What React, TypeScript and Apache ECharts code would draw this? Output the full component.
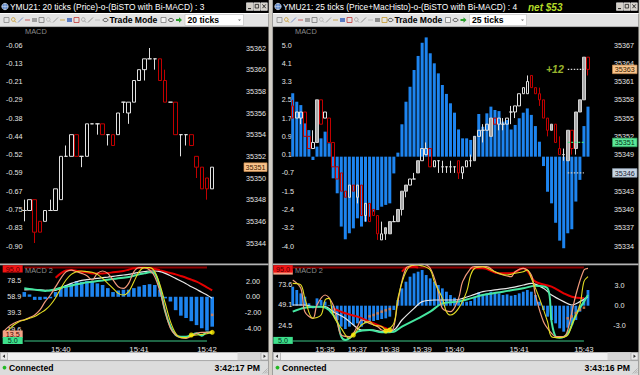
import React, { useEffect, useRef } from 'react';
import * as echarts from 'echarts';

const FONT = '"Liberation Sans", Arial, sans-serif';
const BLUE = '#1d84ef';
const AXC = '#e6e6e6';

// ================= Left window (20 ticks) =================
const L_TITLE = 'YMU21: 20 ticks (Price)-o-(BiSTO with Bi-MACD) : 3';
const L_PERIOD = '20 ticks';
const L_CLOCK = '3:42:17 PM';
const L_SLOTS = 41;
const L_FIRST = 4; // first slot holding a candle / histogram bar
// [open, close, low, high]
const L_OHLC = [
  [35347, 35347, 35346, 35348], [35347, 35348, 35347, 35348], [35348, 35345, 35344, 35348],
  [35346, 35345, 35345, 35346], [35346, 35347, 35346, 35347], [35347, 35347, 35347, 35348],
  [35347, 35349, 35347, 35349], [35348, 35352, 35348, 35352], [35352, 35352, 35352, 35353],
  [35352, 35354, 35352, 35354], [35354, 35352, 35352, 35354], [35352, 35352, 35351, 35352],
  [35352, 35355, 35352, 35355], [35355, 35355, 35355, 35355], [35355, 35355, 35354, 35355],
  [35355, 35354, 35354, 35355], [35354, 35354, 35353, 35354], [35354, 35353, 35353, 35354],
  [35354, 35356, 35354, 35356], [35357, 35357, 35356, 35357], [35356, 35357, 35355, 35357],
  [35357, 35359, 35357, 35359], [35359, 35360, 35359, 35360], [35360, 35361, 35359, 35361],
  [35361, 35361, 35361, 35362], [35361, 35361, 35360, 35361], [35361, 35359, 35359, 35361],
  [35359, 35357, 35357, 35360], [35357, 35357, 35357, 35357], [35357, 35354, 35354, 35357],
  [35354, 35354, 35352, 35354], [35354, 35354, 35353, 35354], [35354, 35353, 35353, 35354],
  [35352, 35351, 35350, 35352], [35351, 35349, 35349, 35351], [35350, 35349, 35348, 35350],
  [35349, 35351, 35349, 35351],
];
const L_PRICE_MIN = 35344;
const L_PRICE_MAX = 35362;
const L_PRICE_STEP = 2;
const L_LAST = 35351;
const L_MACD_LABELS = ['-0.90', '-0.83', '-0.75', '-0.67', '-0.59', '-0.52', '-0.44', '-0.38', '-0.29', '-0.21', '-0.13', '-0.06'];
const L_MACD2 = [
  0.6, 0.3, -0.4, -0.4, -0.3, -0.2, 0.6, 1.1, 1.5, 1.7, 2.0, 1.9, 2.0, 1.9, 1.7, 1.5, 1.1,
  0.6, 0.8, 0.9, 0.9, 1.1, 1.3, 1.5, 1.6, 1.5, 0.9, -0.2, -0.6, -1.7, -2.4, -2.7, -3.1, -3.6,
  -4.0, -4.3, -3.8,
];
const L_MACD2_MIN = -5.62;
const L_MACD2_MAX = 3.72;
const L_MACD2_TICKS = [2, 0, -2, -4];
const L_STO_TICKS = [78.5, 58.9, 39.3, 19.6];
const L_STO_K_LAST = 13.5;
const L_K = [
  16.4, 22.6, 26.7, 29.5, 30.8, 33.6, 36.9, 43.0, 53.2, 61.3, 71.5, 81.7, 89.9, 91.9, 89.9, 87.8,
  85.0, 79.7, 87.8, 90.7, 87.8, 79.7, 71.5, 69.5, 75.6, 89.9, 94.8, 94.8, 91.9, 83.8, 65.4, 41.0,
  20.6, 12.3, 9.1, 8.3, 11.1, 14.4, 15.6, 15.6, 16.4,
];
const L_D = [
  14.4, 18.5, 24.6, 28.7, 30.8, 32.8, 34.9, 39.0, 43.0, 49.1, 58.0, 69.5, 79.7, 86.6, 89.9, 90.7,
  89.9, 89.1, 86.6, 81.7, 75.6, 69.5, 63.3, 61.3, 65.4, 77.6, 89.9, 94.8, 94.8, 89.9, 73.6, 51.2,
  28.7, 14.4, 9.1, 9.1, 11.5, 12.3, 13.1, 13.9, 15.6,
];
const L_W = [
  67.5, 67.9, 67.9, 67.5, 67.1, 66.7, 67.1, 69.5, 72.8, 75.6, 77.6, 79.2, 80.1, 80.9, 81.7, 82.5,
  83.3, 84.2, 85.0, 85.8, 86.6, 87.8, 89.1, 89.9, 90.7, 90.7, 89.9, 87.8, 85.0, 81.7, 78.4, 75.2,
  71.5, 68.3, 64.6, 61.3, 57.2,
];
const L_G = [
  69.5, 68.7, 67.9, 67.1, 66.3, 67.1, 68.3, 70.3, 71.5, 72.8, 74.4, 75.6, 76.8, 77.6, 78.4, 79.2,
  80.1, 80.9, 81.7, 82.5, 83.3, 85.0, 86.6, 87.8, 89.1, 87.8, 69.5, 41.0, 22.6, 12.3, 10.3, 10.3,
  12.3, 14.4, 11.5, 15.6, 14.8,
];
const L_R_FIRST = 10;
const L_R = [
  82.5, 87.8, 91.5, 91.9, 91.1, 89.9, 89.1, 87.8, 87.8, 87.8, 88.2, 89.1, 89.9, 90.7, 92.3, 94.0,
  94.8, 94.8, 94.0, 93.2, 91.5, 89.9, 88.2, 86.6, 84.6, 82.5, 80.1, 77.6, 74.4, 70.7, 67.1,
];
const L_YDOTS = [[36, 12.3], [40, 15.6]];
const L_ODOTS = [[40, -2.3]];
const L_TIMES: [number, string][] = [[11, '15:40'], [26, '15:41'], [39, '15:42']];
const L_LEVEL_FROM = 4;
const L_LEVEL_TO = 39;

// ================= Right window (25 ticks) =================
const R_TITLE = 'YMU21: 25 ticks (Price+MacHisto)-o-(BiSTO with Bi-MACD) : 4';
const R_NET = 'net $53';
const R_PERIOD = '25 ticks';
const R_CLOCK = '3:43:16 PM';
const R_SLOTS = 74;
const R_OHLC = [
  [35357, 35355, 35355, 35358], [35355, 35356, 35355, 35356], [35355, 35356, 35354, 35356],
  [35356, 35352, 35352, 35356], [35352, 35350, 35350, 35352], [35350, 35351, 35350, 35353],
  [35351, 35358, 35351, 35358], [35358, 35354, 35354, 35358], [35355, 35356, 35355, 35356],
  [35355, 35351, 35351, 35355], [35351, 35347, 35347, 35351], [35347, 35345, 35345, 35347],
  [35346, 35343, 35343, 35346], [35343, 35342, 35342, 35343], [35342, 35344, 35342, 35344],
  [35344, 35343, 35343, 35344], [35342, 35344, 35341, 35344], [35344, 35339, 35339, 35344],
  [35339, 35341, 35338, 35341], [35341, 35338, 35338, 35341], [35340, 35339, 35339, 35340],
  [35339, 35336, 35335, 35339], [35335, 35336, 35335, 35338], [35336, 35337, 35335, 35337],
  [35336, 35338, 35336, 35338], [35338, 35338, 35338, 35339], [35338, 35340, 35338, 35340],
  [35340, 35343, 35339, 35343], [35343, 35344, 35342, 35344], [35344, 35345, 35344, 35345],
  [35345, 35345, 35345, 35346], [35346, 35348, 35346, 35348], [35348, 35350, 35348, 35350],
  [35349, 35350, 35349, 35351], [35350, 35347, 35347, 35350], [35347, 35348, 35347, 35348],
  [35348, 35348, 35346, 35348], [35347, 35347, 35346, 35348], [35347, 35347, 35346, 35347],
  [35347, 35347, 35346, 35348], [35347, 35347, 35346, 35347], [35348, 35346, 35345, 35348],
  [35346, 35347, 35345, 35347], [35347, 35348, 35347, 35348], [35348, 35348, 35347, 35349],
  [35348, 35352, 35348, 35352], [35352, 35353, 35352, 35353], [35353, 35353, 35351, 35354],
  [35353, 35354, 35353, 35354], [35352, 35355, 35352, 35355], [35355, 35354, 35354, 35355],
  [35354, 35355, 35353, 35355], [35354, 35354, 35353, 35355], [35354, 35355, 35354, 35355],
  [35356, 35356, 35354, 35357], [35356, 35357, 35355, 35357], [35357, 35359, 35357, 35359],
  [35359, 35360, 35359, 35360], [35359, 35361, 35359, 35362], [35362, 35360, 35360, 35362],
  [35360, 35359, 35359, 35360], [35359, 35358, 35357, 35360], [35358, 35355, 35355, 35358],
  [35355, 35353, 35352, 35355], [35353, 35354, 35353, 35354], [35354, 35351, 35351, 35354],
  [35350, 35349, 35349, 35352], [35349, 35349, 35348, 35350], [35348, 35353, 35348, 35353],
  [35353, 35350, 35349, 35353], [35350, 35356, 35349, 35356], [35356, 35358, 35356, 35358],
  [35358, 35365, 35358, 35365], [35365, 35363, 35362, 35365],
];
const R_FILLED = [6, 23, 24, 26, 27, 28, 31, 45, 49, 64, 68, 70, 71, 72];
const R_PRICE_MIN = 35334;
const R_PRICE_MAX = 35367;
const R_PRICE_STEP = 3;
const R_MACD = [
  2.84, 2.46, 2.31, 1.49, 1.19, -0.15, 0.45, 0.82, 1.12, 0.6, -0.97, -1.64, -3.13, -3.70, -3.43,
  -3.21, -2.76, -3.13, -2.91, -2.69, -2.46, -2.39, -2.24, -2.16, -2.09, -0.75, 0.18, 1.45, 2.46,
  3.13, 3.88, 4.51, 5.10, 5.34, 4.63, 4.18, 3.73, 3.21, 2.81, 2.39, 1.97, 1.22, 0.82, 0.82, 0.75,
  0.93, 1.91, 1.34, 1.94, 2.24, 2.09, 2.04, 1.57, 1.64, 1.22, 1.42, 1.72, 1.97, 2.16, 1.87, 1.37,
  0.67, -0.42, -1.57, -2.09, -2.96, -3.76, -4.10, -3.43, -3.25, -2.01, -1.04, 1.37, 2.24,
];
const R_MACD_MIN = -4.0;
const R_MACD_MAX = 5.0;
const R_MACD_LABELS = ['-4.0', '-3.2', '-2.4', '-1.5', '-0.7', '0.1', '0.9', '1.7', '2.5', '3.3', '4.1', '5.0'];
const R_MACD2 = [
  2.85, 2.35, 1.85, 1.35, 0.35, -0.4, 1.1, 0.85, 0.6, 0.1, -1.15, -2.15, -3.15, -3.5, -3.15, -2.9,
  -2.65, -3.15, -2.65, -2.4, -2.3, -2.15, -2.0, -1.9, -1.65, -0.65, 0.85, 2.6, 3.6, 4.35, 4.85,
  5.1, 5.35, 4.6, 4.1, 3.6, 3.1, 2.6, 2.1, 1.6, 1.2, 0.85, 0.6, 0.6, 0.7, 1.35, 2.0, 1.7, 1.85,
  2.1, 2.0, 1.85, 1.6, 1.7, 1.5, 1.6, 1.85, 2.1, 2.35, 2.1, 1.6, 0.6, -0.65, -1.65, -2.15, -2.65,
  -3.4, -3.9, -3.3, -2.9, -2.15, -0.9, 1.2, 2.35,
];
const R_MACD2_MIN = -5.3;
const R_MACD2_MAX = 5.73;
const R_MACD2_TICKS = [3, 0, -3];
const R_STO_TICKS = [73.6, 49.1, 24.5];
const R_K = [
  [0, 79.7], [2, 69.5], [3, 40.9], [5, 32.8], [6, 49.1], [8, 61.3], [10, 49.1], [11, 28.7], [12, 12.3],
  [14, 10.3], [16, 22.6], [17, 30.7], [19, 26.6], [21, 22.6], [22, 18.5], [24, 16.4], [25, 22.6],
  [26, 53.2], [28, 94.0], [30, 98], [32, 99], [34, 94.0], [36, 65.4], [37, 45.0], [39, 40.9],
  [41, 57.2], [42, 77.7], [44, 94.0], [45, 96], [48, 96], [50, 89.9], [52, 85.8], [54, 83.8],
  [55, 89.9], [57, 94.0], [59, 85.8], [60, 61.3], [62, 28.7], [64, 14.4], [65, 10.3], [67, 10.3],
  [68, 18.5], [70, 61.3], [72, 92.0], [73, 94.0],
];
const R_D = [
  [0, 75.6], [2, 73.6], [3, 57.2], [5, 32.8], [7, 36.8], [8, 55.2], [9, 57.2], [10, 36.8], [12, 20.5],
  [14, 8.3], [15, 12.3], [17, 24.6], [19, 28.7], [20, 24.6], [22, 22.6], [23, 18.5], [25, 26.6],
  [26, 57.2], [28, 89.9], [30, 98], [32, 97], [34, 92], [35, 77.7], [37, 57.2], [38, 40.9],
  [39, 36.8], [41, 45.0], [43, 65.4], [44, 85.8], [45, 94.0], [47, 96], [49, 92], [51, 87.9],
  [53, 85.8], [55, 87.9], [57, 89.9], [58, 92], [59, 81.7], [61, 57.2], [63, 28.7], [64, 10.3],
  [66, 9.1], [68, 12.3], [69, 24.6], [71, 49.1], [72, 77.7], [73, 83.8],
];
const R_W = [
  [0, 49.1], [3, 49.1], [5, 47.0], [8, 47.0], [10, 40.9], [13, 32.8], [15, 24.6], [17, 18.5],
  [20, 18.5], [22, 16.4], [25, 18.5], [27, 30.7], [30, 45.0], [32, 53.2], [35, 55.2], [37, 55.2],
  [40, 55.2], [42, 57.2], [45, 62.1], [47, 65.4], [50, 67.5], [54, 70.3], [57, 73.6], [59, 75.6],
  [62, 69.5], [64, 61.3], [67, 53.2], [69, 49.1], [71, 53.2], [73, 59.3],
];
const R_G = [
  [0, 40.9], [3, 45.8], [7, 47.0], [9, 43.0], [11, 28.7], [12, 10.3], [13, 6.2], [16, 16.4],
  [19, 18.5], [22, 15.6], [25, 16.4], [27, 22.6], [31, 32.8], [34, 40.9], [37, 51.1], [41, 53.2],
  [44, 57.2], [47, 61.3], [52, 65.4], [57, 69.5], [60, 72.8], [63, 69.5], [64, 28.7], [65, 10.3],
  [66, 9.1], [68, 14.4], [70, 36.8], [72, 53.2], [73, 61.3],
];
const R_RED_A = [[10, 45.0], [13, 38.9], [16, 34.8], [19, 28.7], [22, 22.6], [24, 18.5]];
const R_RED_B = [[27, 90], [28, 94.5], [30, 96], [31, 95]];
const R_RED_C = [
  [44, 94.0], [47, 94.0], [51, 87.9], [54, 87.9], [57, 94.0], [60, 77.7], [64, 71.5], [67, 63.4],
  [69, 59.3], [72, 57.2],
];
const R_YDOTS = [[15, 12.3], [23, 17.2], [24, 18.5]];
const R_ODOTS = [
  [19, -1.6], [20, -1.4], [21, -1.15], [22, -0.9], [23, -0.7], [24, -0.5],
  [68, -1.9], [69, -1.6], [70, -1.1], [71, -0.6], [72, -0.3],
];
const R_TIMES: [number, string][] = [
  [8, '15:35'], [16, '15:37'], [24, '15:38'], [32, '15:39'], [40, '15:40'], [56, '15:41'], [72, '15:43'],
];
const R_LEVEL_FROM = 0;
const R_LEVEL_TO = 72;
const R_ENTRY = 35363;
const R_TARGET = 35351;
const R_STOP = 35346;
const R_PROFIT = '+12';
const R_MARK_FROM = 68;
const R_MARK_TO = 72;

const STO_HI = 95;
const STO_LO = 5;

// ================= helpers =================
const seq = (start: number, arr: number[]) => arr.map((v, k) => [start + k, v]);
const cats = (n: number) => Array.from({ length: n }, (_, i) => String(i));
const timeFmt = (ticks: [number, string][]) => {
  const m = new Map(ticks.map(([i, t]) => [String(i), t]));
  return (v: string) => m.get(String(v)) ?? '';
};
const lbl = (extra: any = {}) => ({ fontFamily: FONT, fontSize: 7.2, color: AXC, ...extra });
const noLines = { axisLine: { show: false }, axisTick: { show: false }, splitLine: { show: false } };
const plain = (v: number) => String(Math.round(v));

const candleStyle = {
  color: 'rgba(0,0,0,0)', color0: 'rgba(0,0,0,0)',
  borderColor: '#e0e0e0', borderColor0: '#c20000', borderColorDoji: '#e0e0e0', borderWidth: 1,
};

function stochLines(x: number, y: number, k: any[], d: any[], w: any[], g: any[], reds: any[][]) {
  const base = { type: 'line', xAxisIndex: x, yAxisIndex: y, symbol: 'none', smooth: 0.35, clip: false, silent: true };
  const out: any[] = [];
  reds.forEach((r) => out.push({ ...base, data: r, lineStyle: { color: '#e40000', width: 2 }, z: 3 }));
  out.push({ ...base, data: w, lineStyle: { color: '#e8e8e8', width: 1.2 }, z: 4 });
  out.push({ ...base, data: g, lineStyle: { color: '#46e6a0', width: 2 }, z: 5 });
  out.push({ ...base, data: k, lineStyle: { color: '#f29a7c', width: 1.2 }, z: 6 });
  out.push({ ...base, data: d, lineStyle: { color: '#e2dc22', width: 1.1 }, z: 7 });
  return out;
}

function levelLines(x: number, y: number, from: number, to: number) {
  const base = { type: 'line', xAxisIndex: x, yAxisIndex: y, symbol: 'none', silent: true, clip: false, z: 2 };
  return [
    { ...base, data: [[from, STO_HI], [to, STO_HI]], lineStyle: { color: '#8a0000', width: 2 } },
    { ...base, data: [[from, STO_LO], [to, STO_LO]], lineStyle: { color: '#3cc888', width: 1.2 } },
  ];
}

function buildOption() {
  const xBase = { type: 'category', boundaryGap: true, ...noLines, axisLabel: { show: false } };
  const timeLabel = (t: [number, string][]) => ({
    show: true, interval: 0, margin: 4.5, formatter: timeFmt(t), ...lbl({ fontSize: 7.8 }),
  });
  return {
    animation: false,
    backgroundColor: '#000000',
    textStyle: { fontFamily: FONT },
    grid: [
      { left: 0.8, top: 48, width: 214, height: 195 },
      { left: 0.8, top: 45, width: 214, height: 201 },
      { left: 0.8, top: 267.5, width: 214, height: 73.5 },
      { left: 290.7, top: 45, width: 299.3, height: 201 },
      { left: 290.7, top: 267.5, width: 299.3, height: 73.5 },
    ],
    xAxis: [
      { ...xBase, gridIndex: 0, data: cats(L_SLOTS) },
      { ...xBase, gridIndex: 1, data: cats(L_SLOTS) },
      { ...xBase, gridIndex: 2, data: cats(L_SLOTS), axisLabel: timeLabel(L_TIMES) },
      { ...xBase, gridIndex: 3, data: cats(R_SLOTS) },
      { ...xBase, gridIndex: 4, data: cats(R_SLOTS), axisLabel: timeLabel(R_TIMES) },
    ],
    yAxis: [
      // 0 left price
      { gridIndex: 0, type: 'value', position: 'right', min: L_PRICE_MIN, max: L_PRICE_MAX, interval: L_PRICE_STEP, ...noLines,
        axisLabel: lbl({ margin: 31.2, align: 'left', formatter: plain }) },
      // 1 left MACD labels
      { gridIndex: 1, type: 'category', position: 'left', data: L_MACD_LABELS, boundaryGap: false, ...noLines,
        axisLabel: lbl({ inside: true, margin: 5.2, align: 'left', interval: 0 }) },
      // 2 left stoch
      { gridIndex: 2, type: 'value', position: 'left', min: STO_LO, max: STO_HI, ...noLines,
        axisLabel: lbl({ inside: true, margin: 6.5, align: 'left', customValues: L_STO_TICKS, formatter: (v: number) => v.toFixed(1) }) },
      // 3 left MACD2
      { gridIndex: 2, type: 'value', position: 'right', min: L_MACD2_MIN, max: L_MACD2_MAX, ...noLines,
        axisLabel: lbl({ margin: 38.2, align: 'center', customValues: L_MACD2_TICKS, formatter: (v: number) => v.toFixed(2) }) },
      // 4 right price
      { gridIndex: 3, type: 'value', position: 'right', min: R_PRICE_MIN, max: R_PRICE_MAX, interval: R_PRICE_STEP, ...noLines,
        axisLabel: lbl({ margin: 24, align: 'left', formatter: plain }) },
      // 5 right MACD (values)
      { gridIndex: 3, type: 'value', position: 'left', min: R_MACD_MIN, max: R_MACD_MAX, show: false, ...noLines },
      // 6 right MACD labels
      { gridIndex: 3, type: 'category', position: 'left', data: R_MACD_LABELS, boundaryGap: false, ...noLines,
        axisLabel: lbl({ margin: 9, align: 'left', interval: 0 }) },
      // 7 right stoch
      { gridIndex: 4, type: 'value', position: 'left', min: STO_LO, max: STO_HI, ...noLines,
        axisLabel: lbl({ margin: 12.4, align: 'left', customValues: R_STO_TICKS, formatter: (v: number) => v.toFixed(1) }) },
      // 8 right MACD2
      { gridIndex: 4, type: 'value', position: 'right', min: R_MACD2_MIN, max: R_MACD2_MAX, ...noLines,
        axisLabel: lbl({ margin: 29.5, align: 'center', customValues: R_MACD2_TICKS, formatter: (v: number) => v.toFixed(1) }) },
    ],
    series: [
      // ---------- left main ----------
      { type: 'candlestick', xAxisIndex: 0, yAxisIndex: 0, barWidth: 4, clip: false, silent: true,
        encode: { x: 0, y: [1, 2, 3, 4] },
        data: L_OHLC.map((d, k) => [L_FIRST + k, ...d]), itemStyle: candleStyle, z: 5 },
      // ---------- left lower ----------
      { type: 'bar', xAxisIndex: 2, yAxisIndex: 3, barWidth: 3.6, clip: false, silent: true,
        data: seq(L_FIRST, L_MACD2), itemStyle: { color: BLUE }, z: 1 },
      ...levelLines(2, 2, L_LEVEL_FROM, L_LEVEL_TO),
      ...stochLines(2, 2, seq(0, L_K), seq(0, L_D), seq(L_FIRST, L_W), seq(L_FIRST, L_G), [seq(L_R_FIRST, L_R)]),
      { type: 'scatter', xAxisIndex: 2, yAxisIndex: 2, data: L_YDOTS, symbolSize: 5, itemStyle: { color: '#ffee00' }, z: 9, silent: true },
      { type: 'scatter', xAxisIndex: 2, yAxisIndex: 3, data: L_ODOTS, symbol: 'rect', symbolSize: 2.5, itemStyle: { color: '#f08040' }, z: 9, silent: true },
      // ---------- right main ----------
      { type: 'bar', xAxisIndex: 3, yAxisIndex: 5, barWidth: 3, clip: false, silent: true,
        data: seq(0, R_MACD), itemStyle: { color: BLUE }, z: 1 },
      { type: 'candlestick', xAxisIndex: 3, yAxisIndex: 4, barWidth: 3, clip: false, silent: true,
        encode: { x: 0, y: [1, 2, 3, 4] },
        data: R_OHLC.map((d, k) => (R_FILLED.includes(k)
          ? { value: [k, ...d], itemStyle: { color: '#a8a8a8', borderColor: '#d0d0d0' } }
          : [k, ...d])),
        itemStyle: candleStyle, z: 5 },
      { type: 'line', xAxisIndex: 3, yAxisIndex: 4, symbol: 'none', silent: true, z: 6,
        data: [[R_MARK_FROM, R_ENTRY], [R_MARK_TO, R_ENTRY]],
        lineStyle: { color: '#d8d8d8', width: 1.2, type: [1.5, 1.5] } },
      { type: 'scatter', xAxisIndex: 3, yAxisIndex: 4, symbolSize: 0, silent: true, z: 7,
        data: [[R_MARK_FROM, R_ENTRY]],
        label: { show: true, position: 'left', distance: 4, formatter: R_PROFIT, color: '#c2e23a',
          fontFamily: FONT, fontSize: 10.5, fontWeight: 'bold', fontStyle: 'italic' } },
      { type: 'line', xAxisIndex: 3, yAxisIndex: 4, symbol: 'none', silent: true, z: 6,
        data: [[R_MARK_FROM, R_TARGET], [R_MARK_TO, R_TARGET]],
        lineStyle: { color: '#40e080', width: 1.2, type: [2, 1.5] } },
      { type: 'line', xAxisIndex: 3, yAxisIndex: 4, symbol: 'none', silent: true, z: 6,
        data: [[R_MARK_FROM, R_STOP], [R_MARK_TO, R_STOP]],
        lineStyle: { color: '#c8c8c8', width: 1.2, type: [1.5, 1.5] } },
      // ---------- right lower ----------
      { type: 'bar', xAxisIndex: 4, yAxisIndex: 8, barWidth: 2.8, clip: false, silent: true,
        data: seq(0, R_MACD2), itemStyle: { color: BLUE }, z: 1 },
      ...levelLines(4, 7, R_LEVEL_FROM, R_LEVEL_TO),
      ...stochLines(4, 7, R_K, R_D, R_W, R_G, [R_RED_A, R_RED_B, R_RED_C]),
      { type: 'scatter', xAxisIndex: 4, yAxisIndex: 7, data: R_YDOTS, symbolSize: 5, itemStyle: { color: '#ffee00' }, z: 9, silent: true },
      { type: 'scatter', xAxisIndex: 4, yAxisIndex: 8, data: R_ODOTS, symbol: 'rect', symbolSize: 2.5, itemStyle: { color: '#f08040' }, z: 9, silent: true },
    ],
  };
}

// ================= chrome (window decorations) =================
const T = (x: number, y: number, text: string, font: string, fill: string, align = 'left', z = 120) => ({
  type: 'text', x, y, z, silent: true,
  style: { text, font, fill, align, verticalAlign: 'middle', textAlign: align, textVerticalAlign: 'middle' },
});
const Rc = (x: number, y: number, w: number, h: number, fill: string, stroke = 'none', lw = 1, z = 100) => ({
  type: 'rect', z, silent: true, shape: { x, y, width: w, height: h }, style: { fill, stroke, lineWidth: lw },
});
const Ln = (x1: number, y1: number, x2: number, y2: number, stroke: string, lw = 1, z = 105) => ({
  type: 'line', z, silent: true, shape: { x1, y1, x2, y2 }, style: { stroke, lineWidth: lw },
});

function icon(kind: number, x: number, y: number, color: string) {
  switch (kind % 5) {
    case 0: return [Rc(x, y - 2.5, 5, 5, 'none', color, 0.8, 110)];
    case 1: return [{ type: 'circle', z: 110, silent: true, shape: { cx: x + 2.3, cy: y - 0.5, r: 1.8 }, style: { fill: 'none', stroke: color, lineWidth: 0.9 } },
      Ln(x + 3.5, y + 0.8, x + 5, y + 2.5, color, 0.9, 110)];
    case 2: return [Ln(x, y + 2.5, x + 5, y - 2.5, color, 0.8, 110)];
    case 3: return [Ln(x, y, x + 5, y, color, 0.8, 110)];
    default: return [Rc(x, y - 2, 5, 4, color, 'none', 1, 110)];
  }
}
const ICON_COLORS = ['#8c8c8c', '#c89b2c', '#5a7cc4', '#c43a3a', '#a0a0a0', '#7a7a7a', '#b4b4b4'];

function chrome(o: { x: number; w: number; title: string; period: string; clock: string; icons: number;
  tradeX: number; boxX: number; boxW: number; }) {
  const { x, w } = o;
  const r = x + w;
  const els: any[] = [];
  // title bar
  els.push(Rc(x, 0, w, 13, '#000000'));
  els.push({ type: 'circle', z: 110, silent: true, shape: { cx: x + 5, cy: 6.5, r: 3.2 }, style: { fill: '#5d86c8', stroke: '#dfe6f0', lineWidth: 0.7 } });
  els.push(Ln(x + 1.8, 6.5, x + 8.2, 6.5, '#dfe6f0', 0.5, 111));
  els.push(Ln(x + 5, 3.3, x + 5, 9.7, '#dfe6f0', 0.5, 111));
  els.push(T(x + 10, 7, o.title, `8.4px ${FONT}`, '#ffffff'));
  for (let k = 0; k < 3; k++) {
    const bx = r - 22 + k * 7.2;
    els.push(Rc(bx, 2.8, 6.4, 7.6, '#d4d0c8', '#f4f4f4', 0.6, 110));
    if (k === 0) els.push(Ln(bx + 1.5, 8.6, bx + 4.5, 8.6, '#202020', 1, 112));
    if (k === 1) els.push(Rc(bx + 1.5, 4.4, 3.4, 3.6, 'none', '#202020', 0.8, 112));
    if (k === 2) {
      els.push(Ln(bx + 1.5, 4.4, bx + 4.9, 8.2, '#202020', 0.9, 112));
      els.push(Ln(bx + 4.9, 4.4, bx + 1.5, 8.2, '#202020', 0.9, 112));
    }
  }
  // toolbar
  els.push(Rc(x, 13, w, 14, '#e3e3e3'));
  els.push(Ln(x, 13.5, r, 13.5, '#ffffff', 1, 101));
  els.push(Ln(x, 26.6, r, 26.6, '#9a9a9a', 0.8, 101));
  for (let k = 0; k < o.icons; k++) {
    icon(k, x + 4 + k * 7, 20, ICON_COLORS[k % ICON_COLORS.length]).forEach((e) => els.push(e));
  }
  els.push({ type: 'ellipse', z: 110, silent: true, shape: { cx: o.tradeX - 4, cy: 20, rx: 2.4, ry: 1.6 }, style: { fill: 'none', stroke: '#404040', lineWidth: 0.9 } });
  els.push(T(o.tradeX, 20.3, 'Trade Mode', `bold 8.6px ${FONT}`, '#000000'));
  const after = o.boxX - 25;
  els.push(Rc(after + 1, 17.5, 5, 5, '#f4f4f4', '#707070', 0.7, 110));
  els.push({ type: 'ellipse', z: 110, silent: true, shape: { cx: after + 11, cy: 20, rx: 2.4, ry: 1.6 }, style: { fill: 'none', stroke: '#404040', lineWidth: 0.9 } });
  els.push({ type: 'polygon', z: 110, silent: true, shape: { points: [[after + 16, 19], [after + 19, 19], [after + 19, 17.3], [after + 22, 20], [after + 19, 22.7], [after + 19, 21], [after + 16, 21]] }, style: { fill: '#2aa02a' } });
  els.push(Rc(o.boxX, 14.5, o.boxW, 11, '#ffffff', '#bdbdbd', 0.6, 105));
  els.push(T(o.boxX + 2.5, 20.3, o.period, `bold 8.6px ${FONT}`, '#000000'));
  els.push({ type: 'polygon', z: 110, silent: true, shape: { points: [[o.boxX + o.boxW - 5.5, 19.5], [o.boxX + o.boxW - 2.5, 19.5], [o.boxX + o.boxW - 4, 21]] }, style: { fill: '#707070' } });
  // separator between main and lower panel
  els.push(Rc(x, 263.6, w, 1.6, '#b4b4b4'));
  // scrollbar
  els.push(Rc(x, 352.3, w, 8, '#f0f0f0'));
  els.push(Rc(r - 31, 352.3, 24, 8, '#d6d6d6'));
  els.push(Rc(x + 0.5, 352.6, 7, 7.4, '#e8e8e8', '#9c9c9c', 0.6, 105));
  els.push(Rc(r - 7.5, 352.6, 7, 7.4, '#e8e8e8', '#9c9c9c', 0.6, 105));
  els.push({ type: 'polygon', z: 110, silent: true, shape: { points: [[x + 2.6, 356.3], [x + 5, 354.6], [x + 5, 358]] }, style: { fill: '#303030' } });
  els.push({ type: 'polygon', z: 110, silent: true, shape: { points: [[r - 2.6, 356.3], [r - 5, 354.6], [r - 5, 358]] }, style: { fill: '#303030' } });
  // status bar
  els.push(Rc(x, 360.3, w, 14.7, '#dcdcdc'));
  els.push(Ln(x, 360.6, r, 360.6, '#a8a8a8', 0.8, 101));
  els.push({ type: 'circle', z: 110, silent: true, shape: { cx: x + 4.5, cy: 367.6, r: 1.9 }, style: { fill: '#22b822' } });
  els.push(T(x + 9, 368, 'Connected', `bold 8.6px ${FONT}`, '#000000'));
  els.push(T(r - 8.5, 368, o.clock, `bold 8.7px ${FONT}`, '#000000', 'right'));
  for (let k = 0; k < 3; k++) els.push(Ln(r - 6 + k * 1.8, 373.5, r - 1, 368.5 + k * 1.8, '#9a9a9a', 0.6, 110));
  return els;
}

function buildGraphic(chart: any) {
  const py = (axis: number, v: number) => chart.convertToPixel({ yAxisIndex: axis }, v) as number;
  const els: any[] = [];
  // window frames
  els.push(Rc(268.5, 0, 4.5, 375, '#d4d0c8', 'none', 1, 98));
  els.push(Ln(272.6, 0, 272.6, 375, '#8a8a8a', 0.8, 99));
  els.push(Rc(638.5, 0, 1.5, 375, '#d4d0c8', 'none', 1, 98));
  chrome({ x: 0, w: 268.5, title: L_TITLE, period: L_PERIOD, clock: L_CLOCK, icons: 14, tradeX: 109.5, boxX: 185, boxW: 58.5 }).forEach((e) => els.push(e));
  chrome({ x: 273, w: 365.5, title: R_TITLE, period: R_PERIOD, clock: R_CLOCK, icons: 16, tradeX: 394.5, boxX: 469.5, boxW: 57 }).forEach((e) => els.push(e));
  els.push(T(528, 7, R_NET, `italic bold 10px ${FONT}`, '#b4dc28'));

  // panel titles
  const grey = '#8c8c8c';
  els.push(T(25, 31.5, 'MACD', `7.4px ${FONT}`, grey));
  els.push(T(295, 31.5, 'MACD', `7.4px ${FONT}`, grey));
  els.push(T(25, 270.8, 'MACD 2', `7.4px ${FONT}`, grey));
  els.push(T(295, 270.8, 'MACD 2', `7.4px ${FONT}`, grey));

  const box = (x: number, yc: number, w: number, h: number, text: string, fill: string, color: string, stroke = 'none') => {
    els.push(Rc(x, yc - h / 2, w, h, fill, stroke, 0.7, 115));
    els.push(T(x + w / 2, yc + 0.4, text, `7.2px ${FONT}`, color, 'center', 118));
  };
  // price boxes
  box(244, py(0, L_LAST), 23, 8.6, String(L_LAST), '#fbc48c', '#3a2000', '#d09050');
  box(612.5, py(4, R_ENTRY), 24.5, 8.6, String(R_ENTRY), '#f8c48c', '#3a2000', '#c88c50');
  box(612.5, py(4, R_TARGET), 24.5, 8.6, String(R_TARGET), '#5ce898', '#003018', '#30a060');
  box(612.5, py(4, R_STOP), 24.5, 8.6, String(R_STOP), '#c8d6e4', '#1a2030', '#8898a8');

  // stochastic level boxes
  const clampTop = (y: number, h: number) => Math.max(y, 265.2 + h / 2);
  const hiL = clampTop(py(2, STO_HI), 7.4);
  box(2.7, py(2, L_STO_K_LAST), 20, 7.2, L_STO_K_LAST.toFixed(1), '#f4a286', '#400000');
  box(2.7, py(2, STO_LO) - 0.6, 20, 7, STO_LO.toFixed(1), '#3ee08c', '#003018');
  box(2.7, hiL, 20, 7.4, STO_HI.toFixed(1), '#f01414', '#500000');
  const hiR = clampTop(py(7, STO_HI), 7.4);
  els.push(Rc(273.3, hiR + 1.5, 19.5, 4.2, '#f4a286', 'none', 1, 114));
  box(273.3, hiR, 19.5, 7.4, STO_HI.toFixed(1), '#f01414', '#500000');
  box(273.3, py(7, STO_LO) - 0.6, 19.5, 7, STO_LO.toFixed(1), '#3ee08c', '#003018');
  return els;
}

export default function App() {
  const ref = useRef<HTMLDivElement>(null);
  useEffect(() => {
    const chart = echarts.init(ref.current as HTMLDivElement, undefined, { renderer: 'svg' });
    chart.setOption(buildOption() as any);
    chart.setOption({ graphic: { elements: buildGraphic(chart) } } as any);
    return () => chart.dispose();
  }, []);
  return (
    <div
      ref={ref}
      style={{ position: 'fixed', left: 0, top: 0, width: 640, height: 375, background: '#000000' }}
    />
  );
}
